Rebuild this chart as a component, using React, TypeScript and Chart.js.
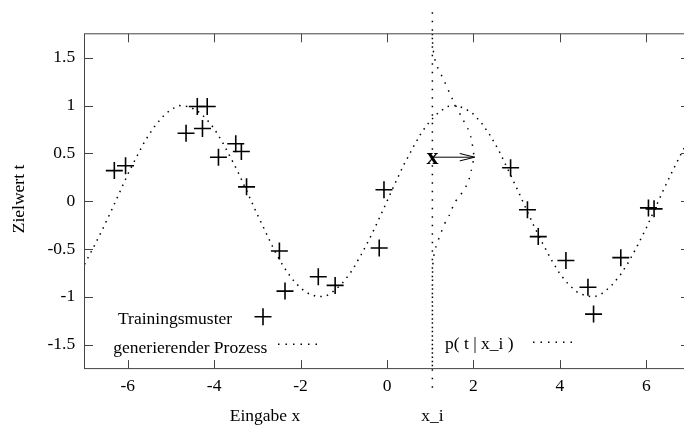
import { useEffect, useRef } from 'react';
import { Chart, registerables } from 'chart.js';

Chart.register(...registerables);

// generating process
const processX = [-7.0, -6.8, -6.6, -6.4, -6.2, -6.0, -5.8, -5.6, -5.4, -5.2, -5.0, -4.8, -4.6, -4.4, -4.2, -4.0, -3.8, -3.6, -3.4, -3.2, -3.0, -2.8, -2.6, -2.4, -2.2, -2.0, -1.8, -1.6, -1.4, -1.2, -1.0, -0.8, -0.6, -0.4, -0.2, 0.0, 0.2, 0.4, 0.6, 0.8, 1.0, 1.2, 1.4, 1.6, 1.8, 2.0, 2.2, 2.4, 2.6, 2.8, 3.0, 3.2, 3.4, 3.6, 3.8, 4.0, 4.2, 4.4, 4.6, 4.8, 5.0, 5.2, 5.4, 5.6, 5.8, 6.0, 6.2, 6.4, 6.6, 6.8, 7.0];
const processT = [-0.66, -0.49, -0.31, -0.12, 0.08, 0.28, 0.46, 0.63, 0.77, 0.88, 0.96, 1.0, 0.99, 0.95, 0.87, 0.76, 0.61, 0.44, 0.26, 0.06, -0.14, -0.33, -0.52, -0.68, -0.81, -0.91, -0.97, -1.0, -0.99, -0.93, -0.84, -0.72, -0.56, -0.39, -0.2, 0.0, 0.2, 0.39, 0.56, 0.72, 0.84, 0.93, 0.99, 1.0, 0.97, 0.91, 0.81, 0.68, 0.52, 0.33, 0.14, -0.06, -0.26, -0.44, -0.61, -0.76, -0.87, -0.95, -0.99, -1.0, -0.96, -0.88, -0.77, -0.63, -0.46, -0.28, -0.08, 0.12, 0.31, 0.49, 0.66];

// training samples
const sampleX = [-6.31, -6.05, -4.65, -4.39, -4.27, -4.16, -3.9, -3.5, -3.37, -3.25, -2.49, -2.36, -1.59, -1.2, -0.18, -0.07, 2.86, 3.25, 3.5, 4.14, 4.65, 4.78, 5.41, 6.05, 6.18];
const sampleT = [0.32, 0.37, 0.71, 0.99, 0.76, 0.99, 0.46, 0.6, 0.52, 0.15, -0.52, -0.94, -0.79, -0.88, -0.49, 0.12, 0.35, -0.09, -0.37, -0.62, -0.9, -1.18, -0.59, -0.07, -0.08];

// x_i and conditional density p(t | x_i)
const xi = 1.05;
const xiLineT = [-1.95, 2.0];
const densityX = [1.05, 1.051, 1.06, 1.09, 1.14, 1.3, 1.5, 1.72, 1.87, 1.94, 1.99, 2.01, 1.95, 1.87, 1.68, 1.57, 1.45, 1.36, 1.24, 1.13, 1.08, 1.055, 1.05];
const densityT = [1.75, 1.7, 1.62, 1.52, 1.43, 1.28, 1.08, 0.885, 0.76, 0.67, 0.55, 0.46, 0.32, 0.19, 0.05, -0.01, -0.14, -0.21, -0.34, -0.48, -0.58, -0.7, -1.75];
const arrowT = 0.46;
const arrowEndX = 2.03;

const xTicks = [-6, -4, -2, 0, 2, 4, 6];
const yTicks = [-1.5, -1, -0.5, 0, 0.5, 1, 1.5];

const labels = {
  yTitle: 'Zielwert t',
  xTitle: 'Eingabe x',
  xiLabel: 'x_i',
  bold: 'x',
  train: 'Trainingsmuster',
  process: 'generierender Prozess',
  density: 'p( t | x_i )',
};

const FONT = '"Liberation Serif", "DejaVu Serif", serif';
const INK = '#000000';

const overlay = {
  id: 'overlay',
  afterDraw(chart: any) {
    const ctx = chart.ctx as CanvasRenderingContext2D;
    const { left, right, top, bottom } = chart.chartArea;
    const xs = chart.scales.x;
    const ys = chart.scales.y;
    ctx.save();
    // frame
    ctx.strokeStyle = '#444';
    ctx.lineWidth = 1;
    ctx.strokeRect(left, top, right - left, bottom - top);
    // inward ticks (mirrored)
    const tl = 8.5;
    ctx.beginPath();
    xs.ticks.forEach((t: any) => {
      const px = Math.round(xs.getPixelForValue(t.value)) + 0.5;
      ctx.moveTo(px, bottom); ctx.lineTo(px, bottom - tl);
      ctx.moveTo(px, top); ctx.lineTo(px, top + tl);
    });
    ys.ticks.forEach((t: any) => {
      const py = Math.round(ys.getPixelForValue(t.value)) + 0.5;
      ctx.moveTo(left, py); ctx.lineTo(left + tl, py);
      ctx.moveTo(right, py); ctx.lineTo(right - tl, py);
    });
    ctx.stroke();

    ctx.fillStyle = INK;
    ctx.font = `17.5px ${FONT}`;
    // y title
    ctx.save();
    ctx.translate(19, 199);
    ctx.rotate(-Math.PI / 2);
    ctx.textAlign = 'center';
    ctx.textBaseline = 'middle';
    ctx.fillText(labels.yTitle, 0, 0);
    ctx.restore();
    // x title & x_i label
    ctx.textBaseline = 'alphabetic';
    ctx.textAlign = 'center';
    ctx.fillText(labels.xTitle, 265, 420.5);
    ctx.fillText(labels.xiLabel, xs.getPixelForValue(xi), 420.5);
    // key texts
    ctx.textAlign = 'left';
    ctx.fillText(labels.train, 118, 324);
    ctx.fillText(labels.process, 113.3, 353);
    ctx.fillText(labels.density, 445, 348.5);

    // key samples
    ctx.strokeStyle = INK;
    ctx.lineWidth = 1.6;
    ctx.beginPath();
    ctx.moveTo(263 - 8.5, 316.7); ctx.lineTo(263 + 8.5, 316.7);
    ctx.moveTo(263, 316.7 - 8.5); ctx.lineTo(263, 316.7 + 8.5);
    ctx.stroke();
    ctx.setLineDash([1.5, 6]);
    ctx.lineWidth = 1.5;
    ctx.beginPath();
    ctx.moveTo(278, 344.3); ctx.lineTo(318, 344.3);
    ctx.moveTo(533, 342.3); ctx.lineTo(573, 342.3);
    ctx.stroke();
    ctx.setLineDash([]);

    // arrow from x_i
    const ax0 = xs.getPixelForValue(xi);
    const ax1 = xs.getPixelForValue(arrowEndX);
    const ay = ys.getPixelForValue(arrowT);
    ctx.lineWidth = 1;
    ctx.beginPath();
    ctx.moveTo(ax0, ay); ctx.lineTo(ax1, ay);
    ctx.moveTo(ax1 - 15, ay - 3.7); ctx.lineTo(ax1, ay); ctx.lineTo(ax1 - 15, ay + 3.7);
    ctx.stroke();
    // bold x
    ctx.font = `bold 24px ${FONT}`;
    ctx.textAlign = 'center';
    ctx.textBaseline = 'alphabetic';
    ctx.fillText(labels.bold, ax0, ay + 6.5);
    ctx.restore();
  },
};

export default function App() {
  const ref = useRef<HTMLCanvasElement | null>(null);
  useEffect(() => {
    if (!ref.current) return;
    const dotted = (dash: number[]) => ({
      showLine: true,
      pointRadius: 0,
      borderColor: INK,
      borderWidth: 1.5,
      borderDash: dash,
      fill: false,
      tension: 0,
    });
    const chart = new Chart(ref.current, {
      type: 'scatter',
      data: {
        datasets: [
          {
            label: labels.process,
            data: processX.map((x, i) => ({ x, y: processT[i] })),
            ...dotted([1.5, 5.2]),
          },
          {
            label: labels.density,
            data: densityX.map((x, i) => ({ x, y: densityT[i] })),
            ...dotted([1.5, 7]),
            tension: 0.2,
          },
          {
            label: 'x_i',
            data: xiLineT.map((t) => ({ x: xi, y: t })),
            ...dotted([1.5, 7]),
            clip: false,
          },
          {
            label: labels.train,
            data: sampleX.map((x, i) => ({ x, y: sampleT[i] })),
            pointStyle: 'cross',
            pointRadius: 8.5,
            pointBorderWidth: 1.6,
            borderColor: INK,
            backgroundColor: INK,
            showLine: false,
          },
        ],
      } as any,
      options: {
        responsive: false,
        animation: false,
        events: [],
        layout: { padding: { left: 0, right: 10.5, top: 33.8, bottom: 0 } },
        plugins: { legend: { display: false }, tooltip: { enabled: false } },
        scales: {
          x: {
            type: 'linear',
            min: -7,
            max: 7,
            grid: { display: false, drawTicks: false },
            border: { display: false },
            afterBuildTicks: (s: any) => { s.ticks = xTicks.map((v) => ({ value: v })); },
            afterFit: (s: any) => { s.height = 56.4; },
            ticks: {
              color: INK,
              padding: 7,
              maxRotation: 0,
              autoSkip: false,
              font: { family: FONT, size: 17.5 },
              callback: (v: any) => String(v),
            },
          },
          y: {
            type: 'linear',
            min: -1.75,
            max: 1.75,
            grid: { display: false, drawTicks: false },
            border: { display: false },
            afterBuildTicks: (s: any) => { s.ticks = yTicks.map((v) => ({ value: v })); },
            afterFit: (s: any) => { s.width = 84.5; },
            ticks: {
              color: INK,
              padding: 9.3,
              autoSkip: false,
              font: { family: FONT, size: 17.5 },
              callback: (v: any) => String(v),
            },
          },
        },
      } as any,
      plugins: [overlay],
    });
    return () => chart.destroy();
  }, []);
  return (
    <div style={{ position: 'absolute', left: 0, top: 0, width: 684, height: 425, overflow: 'hidden', background: '#fff' }}>
      <canvas ref={ref} width={700} height={425} style={{ display: 'block', width: 700, height: 425 }} />
    </div>
  );
}
